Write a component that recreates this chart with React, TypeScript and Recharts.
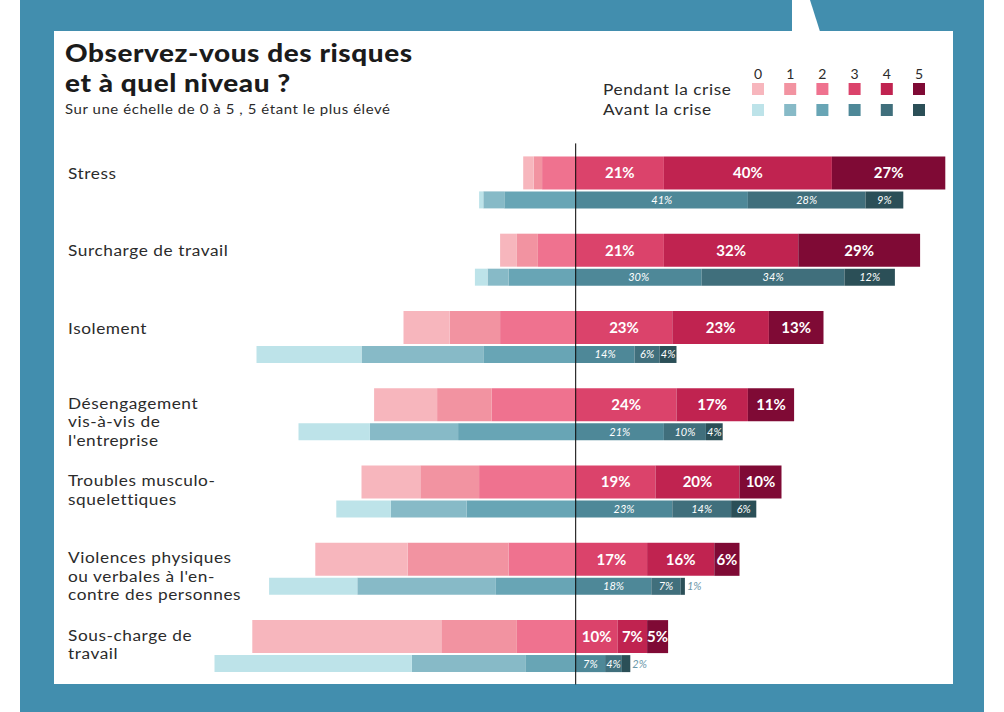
import React from 'react';
import { BarChart, Bar, XAxis, YAxis, ReferenceLine, LabelList } from 'recharts';

// risk categories (one entry per row, split into the printed lines)
const categories = [
  ['Stress'],
  ['Surcharge de travail'],
  ['Isolement'],
  ['Désengagement', 'vis-à-vis de', "l'entreprise"],
  ['Troubles musculo-', 'squelettiques'],
  ['Violences physiques', "ou verbales à l'en-", 'contre des personnes'],
  ['Sous-charge de', 'travail'],
];

const levels = [0, 1, 2, 3, 4, 5];

// share of answers (%) per level 0..5, during the crisis
const pendant = [
  [2.5, 2, 8, 21, 40, 27],
  [4, 5, 9, 21, 32, 29],
  [11, 12, 18, 23, 23, 13],
  [15, 13, 20, 24, 17, 11],
  [14, 14, 23, 19, 20, 10],
  [22, 24, 16, 17, 16, 6],
  [45, 18, 14, 10, 7, 5],
];

// share of answers (%) per level 0..5, before the crisis
const avant = [
  [1, 5, 17, 41, 28, 9],
  [3, 5, 16, 30, 34, 12],
  [25, 29, 22, 14, 6, 4],
  [17, 21, 28, 21, 10, 4],
  [13, 18, 26, 23, 14, 6],
  [21, 33, 19, 18, 7, 1],
  [47, 27, 12, 7, 4, 2],
];

const pinkColors = ['#f7b6bd', '#f293a1', '#ef728f', '#db436b', '#c02350', '#7f0a35'];
const blueColors = ['#bde3e9', '#87bac7', '#68a5b5', '#4e8898', '#406f7c', '#2b4f57'];

// levels 0-2 go left of the axis, 3-5 to the right
const stackOrder = [2, 1, 0, 3, 4, 5];

const data = categories.map((lines, i) => {
  const row: Record<string, any> = { name: lines.join(' ') };
  levels.forEach((l) => {
    const sign = l < 3 ? -1 : 1;
    row['p' + l] = sign * pendant[i][l];
    row['a' + l] = sign * avant[i][l];
  });
  return row;
});

const FONT = 'Lato, "Open Sans", sans-serif';
const BG = '#428eae';
const TEXT = '#2b2b2b';

// Lato stretched a bit sideways, to get close to the wide original face
const WideText = ({ x, y, size, weight = 400, spacing = 0.5, stretch = 1.15, fill = TEXT, children }: any) => (
  <g transform={`translate(${x} ${y}) scale(${stretch} 1)`}>
    <text x={0} y={0} fontSize={size} fontWeight={weight} letterSpacing={spacing} fill={fill} fontFamily={FONT}>
      {children}
    </text>
  </g>
);

const CategoryTick = (props: any) => {
  const { y, index } = props;
  const lines = categories[index] || [];
  // first line sits level with the "pendant" bar
  const top = lines.length > 1 ? y - 5 : y - 3;
  return (
    <g>
      {lines.map((line: string, i: number) => (
        <WideText key={i} x={68} y={top + i * 18.5} size={15}>
          {line}
        </WideText>
      ))}
    </g>
  );
};

const renderPendantLabel = (props: any) => {
  const { x, y, width, height, value } = props;
  if (!value) return null;
  return (
    <text
      x={x + width / 2}
      y={y + height / 2}
      dy="0.36em"
      textAnchor="middle"
      fill="#fff"
      fontSize={15}
      fontWeight={700}
      fontFamily={FONT}
    >
      {value}%
    </text>
  );
};

const renderAvantLabel = (props: any) => {
  const { x, y, width, height, value } = props;
  if (!value) return null;
  const outside = value <= 2;
  return (
    <text
      x={outside ? x + width + 2 : x + width / 2}
      y={y + height / 2}
      dy="0.36em"
      textAnchor={outside ? 'start' : 'middle'}
      fill={outside ? '#6c98aa' : '#fff'}
      fontSize={11}
      fontStyle="italic"
      fontFamily={FONT}
    >
      {value}%
    </text>
  );
};

const Header = () => (
  <svg width={1004} height={712} style={{ position: 'absolute', left: 0, top: 0 }}>
    <WideText x={65} y={62} size={24.5} weight={900} spacing={0.5} stretch={1.14} fill="#1b1b1b">
      Observez-vous des risques
    </WideText>
    <WideText x={65} y={92} size={24.5} weight={900} spacing={0.5} stretch={1.14} fill="#1b1b1b">
      et à quel niveau ?
    </WideText>
    <WideText x={65} y={114} size={13}>
      Sur une échelle de 0 à 5 , 5 étant le plus élevé
    </WideText>
    <WideText x={603} y={95} size={15}>
      Pendant la crise
    </WideText>
    <WideText x={603} y={115} size={15}>
      Avant la crise
    </WideText>
    {levels.map((l) => (
      <g key={l}>
        <text x={758 + l * 32.2} y={79} textAnchor="middle" fontSize={14} fill={TEXT} fontFamily={FONT}>
          {l}
        </text>
        <rect x={752 + l * 32.2} y={83} width={12} height={12} fill={pinkColors[l]} />
        <rect x={752 + l * 32.2} y={104} width={12} height={12} fill={blueColors[l]} />
      </g>
    ))}
  </svg>
);

export default function App() {
  return (
    <div style={{ position: 'absolute', left: 0, top: 0, width: 1004, height: 712, background: '#fff', overflow: 'hidden' }}>
      <div style={{ position: 'absolute', left: 20, top: 0, width: 964, height: 712, background: BG }} />
      <div style={{ position: 'absolute', left: 54, top: 31, width: 899, height: 653, background: '#fff' }} />
      <svg width={1004} height={40} style={{ position: 'absolute', left: 0, top: 0 }}>
        <polygon points="792,0 810,0 820,31.5 792,31.5" fill="#fff" />
      </svg>
      <Header />
      <div style={{ position: 'absolute', left: 0, top: 0 }}>
        <BarChart
          width={1004}
          height={712}
          data={data}
          layout="vertical"
          stackOffset="sign"
          barGap={2}
          margin={{ top: 143.4, right: 50.3, bottom: 27.6, left: 57.7 }}
        >
          <XAxis type="number" domain={[-90, 90]} hide />
          <YAxis
            type="category"
            dataKey="name"
            width={140}
            axisLine={false}
            tickLine={false}
            tick={<CategoryTick />}
            interval={0}
          />
          {stackOrder.map((l) => (
            <Bar key={'p' + l} dataKey={'p' + l} stackId="p" fill={pinkColors[l]} barSize={33} isAnimationActive={false}>
              {l >= 3 && <LabelList dataKey={'p' + l} content={renderPendantLabel} />}
            </Bar>
          ))}
          {stackOrder.map((l) => (
            <Bar key={'a' + l} dataKey={'a' + l} stackId="a" fill={blueColors[l]} barSize={17} isAnimationActive={false}>
              {l >= 3 && <LabelList dataKey={'a' + l} content={renderAvantLabel} />}
            </Bar>
          ))}
          <ReferenceLine x={0} stroke="#000" strokeWidth={1} />
        </BarChart>
      </div>
    </div>
  );
}
